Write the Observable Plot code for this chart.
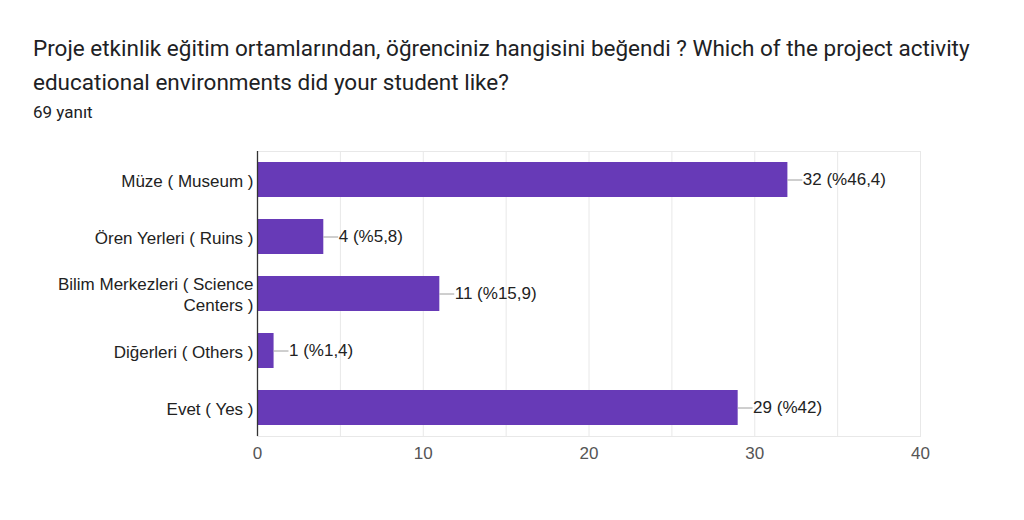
<!DOCTYPE html>
<html><head><meta charset="utf-8">
<script src="https://cdn.jsdelivr.net/npm/d3@7"></script>
<script src="https://cdn.jsdelivr.net/npm/@observablehq/plot@0.6"></script>
<style>
body{margin:0;background:#fff;font-family:Roboto,"Noto Sans",sans-serif;width:1024px;height:520px;overflow:hidden}
#title{position:absolute;left:33px;top:31px;width:960px;font-size:22.5px;line-height:34px;color:#202124}
#sub{position:absolute;left:33px;top:102px;font-size:17px;color:#202124}
#chart{position:absolute;left:0;top:130px}
</style></head><body>
<div id="title">Proje etkinlik eğitim ortamlarından, öğrenciniz hangisini beğendi ? Which of the project activity educational environments did your student like?</div>
<div id="sub">69 yanıt</div>
<div id="chart"></div>
<script>
const categories = ["Müze ( Museum )", "Ören Yerleri ( Ruins )", "Bilim Merkezleri ( Science Centers )", "Diğerleri ( Others )", "Evet ( Yes )"];
const categoryLines = ["Müze ( Museum )", "Ören Yerleri ( Ruins )", "Bilim Merkezleri ( Science\nCenters )", "Diğerleri ( Others )", "Evet ( Yes )"];
const counts = [32, 4, 11, 1, 29];
const percents = ["46,4", "5,8", "15,9", "1,4", "42"];
const xTicks = [0, 10, 20, 30, 40];
const xGrid = [5, 10, 15, 20, 25, 30, 35, 40];

const data = categories.map((c, i) => ({cat: c, value: counts[i], label: `${counts[i]} (%${percents[i]})`}));
const lineLen = 0.9; // leader length in data units

const chart = Plot.plot({
  width: 1024,
  height: 350,
  marginLeft: 257,
  marginRight: 104,
  marginTop: 21,
  marginBottom: 44,
  style: {fontFamily: "'Liberation Sans', Arial, sans-serif", fontSize: "17px", background: "#fff"},
  x: {domain: [0, 40]},
  y: {domain: categories, paddingInner: 0.386, paddingOuter: 0.193},
  marks: [
    Plot.frame({stroke: "#e8e8e8"}),
    Plot.ruleX(xGrid, {stroke: "#e8e8e8", strokeOpacity: 1}),
    Plot.barX(data, {x: "value", y: "cat", fill: "#673ab7"}),
    Plot.ruleY(data, {y: "cat", x1: "value", x2: d => d.value + lineLen, stroke: "#9e9e9e", strokeWidth: 1}),
    Plot.text(data, {y: "cat", x: d => d.value + lineLen, text: "label", textAnchor: "start", fontSize: 17, fill: "#222"}),
    Plot.ruleX([0], {stroke: "#333", strokeWidth: 1.3}),
    Plot.axisY({
      tickSize: 0, tickPadding: 4, fontSize: 17, fill: "#222", lineHeight: 1.25, label: null,
      tickFormat: d => categoryLines[categories.indexOf(d)]
    }),
    Plot.axisX({ticks: xTicks, tickSize: 0, tickPadding: 10, fontSize: 17, fill: "#555", label: null})
  ]
});
document.getElementById("chart").append(chart);
</script>
</body></html>
